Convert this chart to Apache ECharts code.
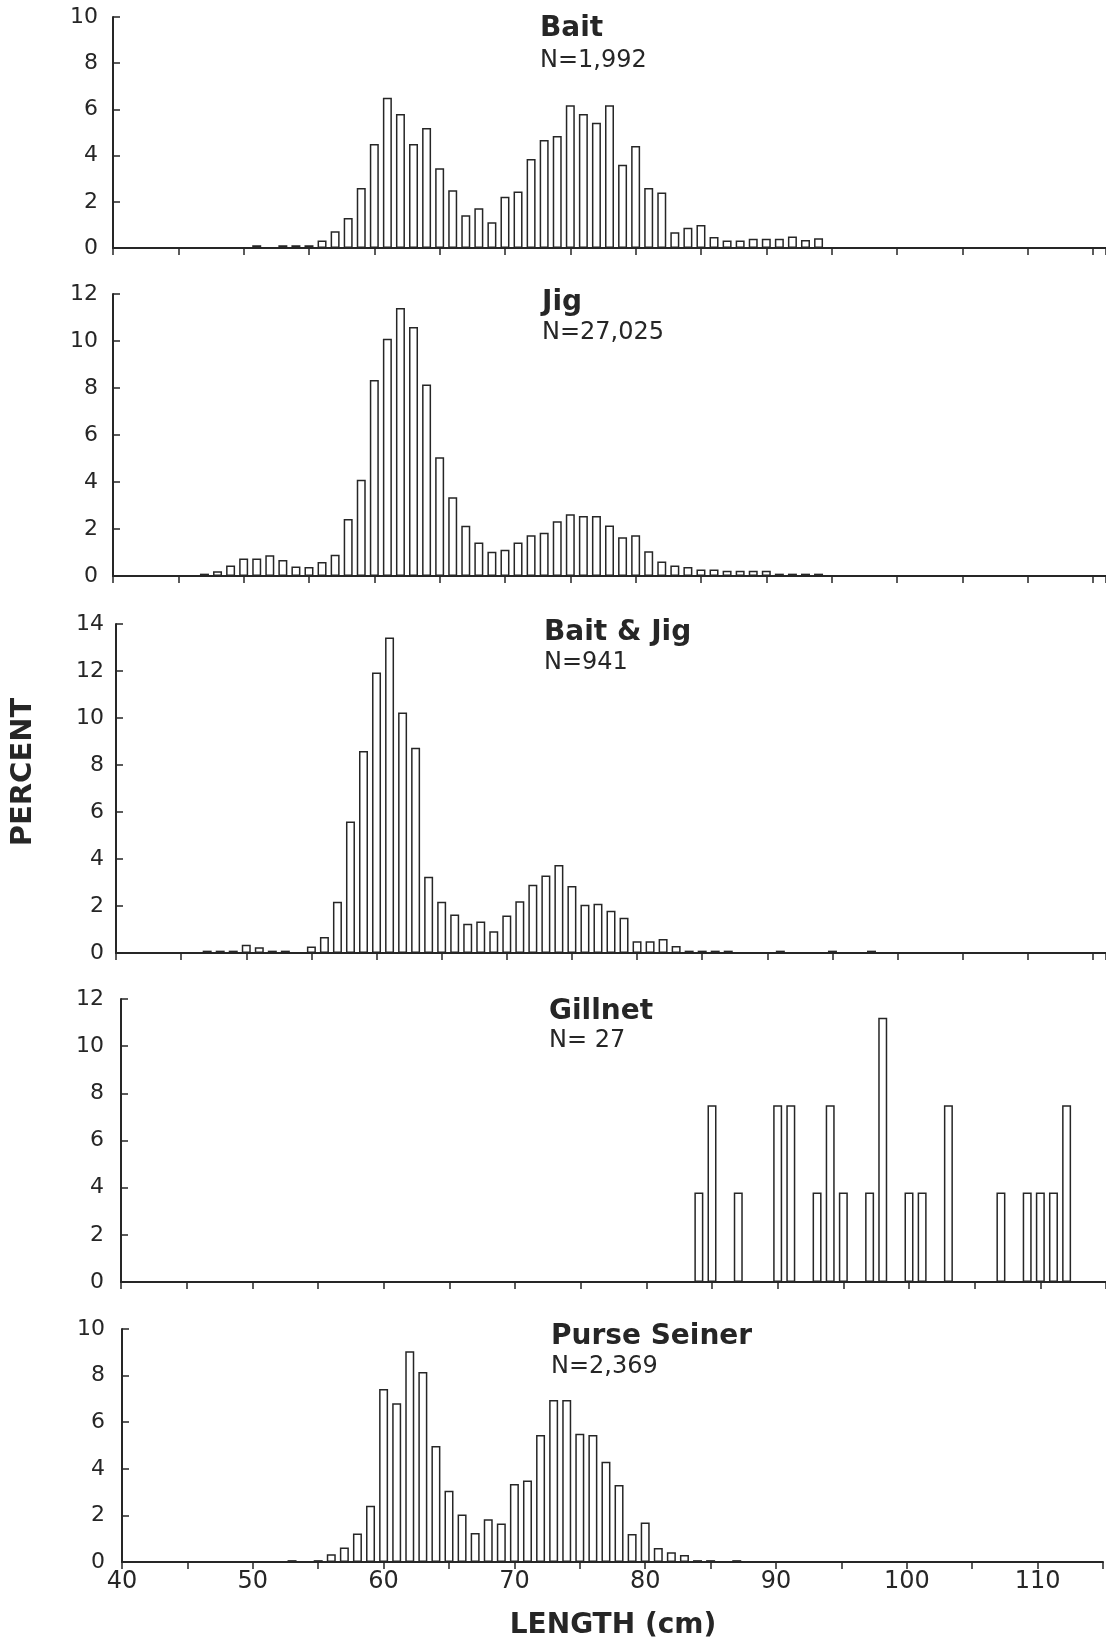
<!DOCTYPE html>
<html><head><meta charset="utf-8">
<script src="https://cdn.jsdelivr.net/npm/echarts@6/dist/echarts.min.js"></script>
<style>html,body{margin:0;padding:0;background:#fff}#c{width:1106px;height:1646px}</style>
</head><body><div id="c"></div>
<script>
// ---- data (length in cm, percent) ----
const baitLen = [51,53,54,55,56,57,58,59,60,61,62,63,64,65,66,67,68,69,70,71,72,73,74,75,76,77,78,79,80,81,82,83,84,85,86,87,88,89,90,91,92,93,94];
const baitPct = [0.12,0.12,0.12,0.12,0.33,0.72,1.3,2.6,4.5,6.5,5.8,4.5,5.2,3.45,2.5,1.42,1.72,1.12,2.22,2.45,3.85,4.68,4.85,6.18,5.8,5.42,6.18,3.6,4.42,2.6,2.4,0.68,0.88,1.0,0.48,0.32,0.32,0.4,0.4,0.4,0.5,0.35,0.42];

const jigLen = [47,48,49,50,51,52,53,54,55,56,57,58,59,60,61,62,63,64,65,66,67,68,69,70,71,72,73,74,75,76,77,78,79,80,81,82,83,84,85,86,87,88,89,90,91,92,93,94];
const jigPct = [0.1,0.2,0.45,0.75,0.75,0.88,0.68,0.4,0.38,0.6,0.9,2.43,4.1,8.34,10.1,11.4,10.6,8.15,5.05,3.35,2.14,1.43,1.03,1.12,1.43,1.73,1.84,2.33,2.63,2.55,2.55,2.15,1.65,1.73,1.05,0.62,0.45,0.38,0.28,0.28,0.22,0.22,0.22,0.22,0.1,0.1,0.1,0.1];

const bjLen = [47,48,49,50,51,52,53,55,56,57,58,59,60,61,62,63,64,65,66,67,68,69,70,71,72,73,74,75,76,77,78,79,80,81,82,83,84,85,86,87,91,95,98];
const bjPct = [0.1,0.1,0.1,0.35,0.25,0.1,0.1,0.28,0.68,2.18,5.6,8.6,11.94,13.43,10.23,8.73,3.25,2.18,1.64,1.25,1.34,0.93,1.6,2.2,2.9,3.3,3.75,2.85,2.05,2.1,1.8,1.5,0.5,0.5,0.6,0.3,0.1,0.1,0.1,0.1,0.1,0.1,0.1];

const gillLen = [84,85,87,90,91,93,94,95,97,98,100,101,103,107,109,110,111,112];
const gillPct = [3.8,7.5,3.8,7.5,7.5,3.8,7.5,3.8,3.8,11.2,3.8,3.8,7.5,3.8,3.8,3.8,3.8,7.5];

const purseLen = [53,55,56,57,58,59,60,61,62,63,64,65,66,67,68,69,70,71,72,73,74,75,76,77,78,79,80,81,82,83,84,85,87];
const pursePct = [0.08,0.08,0.33,0.62,1.22,2.41,7.42,6.81,9.04,8.15,4.98,3.06,2.04,1.25,1.84,1.65,3.35,3.5,5.45,6.95,6.95,5.5,5.45,4.3,3.3,1.2,1.7,0.6,0.42,0.3,0.08,0.08,0.08];

const titles = ['Bait','Jig','Bait & Jig','Gillnet','Purse Seiner'];
const sampleSizes = ['N=1,992','N=27,025','N=941','N= 27','N=2,369'];
const yMaxes = [10,12,14,12,10];
const xTickLabels = [40,50,60,70,80,90,100,110];
const yAxisTitle = 'PERCENT';
const xAxisTitle = 'LENGTH (cm)';

// ---- layout ----
const ink = '#262626';
const FONT = '"DejaVu Sans", "Liberation Sans", sans-serif';
const layout = [
  {left:113, top:17,   height:231, width:996, xMax:116, margin:15, tx:540, ty:28.5,  ny:60.5},
  {left:113, top:294,  height:282, width:996, xMax:116, margin:15, tx:542, ty:303,   ny:333},
  {left:116, top:624,  height:329, width:996, xMax:116, margin:12, tx:544, ty:632.5, ny:662.5},
  {left:121, top:999,  height:283, width:986, xMax:115, margin:17, tx:549, ty:1011.5,ny:1041},
  {left:122, top:1329, height:233, width:986, xMax:115, margin:17, tx:551, ty:1336.5,ny:1367}
];
const seriesData = [
  [baitLen, baitPct], [jigLen, jigPct], [bjLen, bjPct], [gillLen, gillPct], [purseLen, pursePct]
];

const grid = [], xAxis = [], yAxis = [], series = [], graphic = [];
layout.forEach((L, i) => {
  const last = i === layout.length - 1;
  grid.push({left: L.left, top: L.top, width: L.width, height: L.height, containLabel: false});
  xAxis.push({
    type: 'value', gridIndex: i, min: 40, max: L.xMax, interval: 5,
    axisLine: {show: true, onZero: false, lineStyle: {color: ink, width: 2}},
    axisTick: {show: true, inside: false, length: 7, lineStyle: {color: ink, width: 1.5}},
    axisLabel: {show: last, margin: 8, fontSize: 24, color: ink, fontFamily: FONT,
      formatter: v => xTickLabels.indexOf(v) >= 0 ? String(v) : ''},
    splitLine: {show: false}, minorTick: {show: false}
  });
  yAxis.push({
    type: 'value', gridIndex: i, min: 0, max: yMaxes[i], interval: 2,
    axisLine: {show: true, onZero: false, lineStyle: {color: ink, width: 2}},
    axisTick: {show: true, inside: true, length: 7, lineStyle: {color: ink, width: 1.5}},
    axisLabel: {show: true, margin: L.margin, fontSize: 22, color: ink, fontFamily: FONT},
    splitLine: {show: false}
  });
  const [lens, pcts] = seriesData[i];
  series.push({
    type: 'bar', xAxisIndex: i, yAxisIndex: i, barWidth: 9,
    data: lens.map((x, k) => [x, pcts[k]]),
    itemStyle: {color: '#ffffff', borderColor: ink, borderWidth: 1.5},
    emphasis: {disabled: true}, silent: true
  });
  graphic.push({
    type: 'text', x: L.tx, y: L.ty, silent: true,
    style: {text: titles[i], font: 'bold 28px ' + FONT, fill: ink,
      textAlign: 'left', align: 'left', textVerticalAlign: 'middle', verticalAlign: 'middle'}
  });
  graphic.push({
    type: 'text', x: L.tx, y: L.ny, silent: true,
    style: {text: sampleSizes[i], font: '24px ' + FONT, fill: ink,
      textAlign: 'left', align: 'left', textVerticalAlign: 'middle', verticalAlign: 'middle'}
  });
});
graphic.push({
  type: 'text', x: 23, y: 772, rotation: Math.PI / 2, silent: true,
  style: {text: yAxisTitle, font: 'bold 29px ' + FONT, fill: ink,
    textAlign: 'center', align: 'center', textVerticalAlign: 'middle', verticalAlign: 'middle'}
});
graphic.push({
  type: 'text', x: 613, y: 1626, silent: true,
  style: {text: xAxisTitle, font: 'bold 28px ' + FONT, fill: ink,
    textAlign: 'center', align: 'center', textVerticalAlign: 'middle', verticalAlign: 'middle'}
});

const chart = echarts.init(document.getElementById('c'), null, {renderer: 'canvas'});
chart.setOption({
  animation: false,
  backgroundColor: '#ffffff',
  textStyle: {fontFamily: FONT, color: ink},
  grid, xAxis, yAxis, series, graphic
});
</script>
</body></html>
